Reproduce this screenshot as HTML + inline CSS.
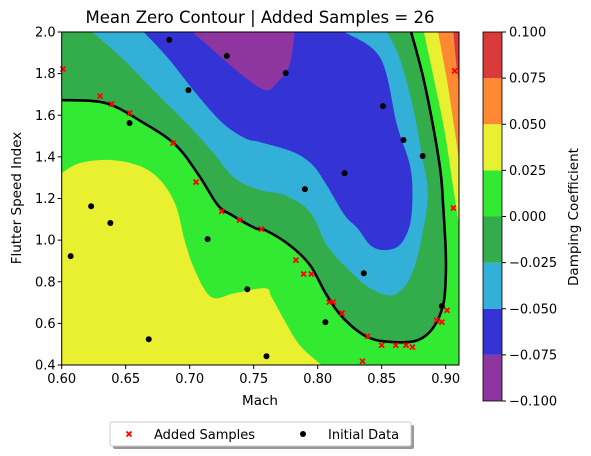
<!DOCTYPE html>
<html><head><meta charset="utf-8"><style>
html,body{margin:0;padding:0;background:#fff;}
svg{display:block;font-family:"DejaVu Sans","Liberation Sans",sans-serif;}
</style></head><body>
<svg id="chart" width="591" height="456" viewBox="0 0 591 456">
<defs><clipPath id="clip"><rect x="61.7" y="32" width="397.3" height="333"/></clipPath></defs>
<g id="plot" clip-path="url(#clip)"></g>
<g id="marks"></g>
<g id="axes"></g>
<text x="260" y="23" font-size="16.5" text-anchor="middle">Mean Zero Contour | Added Samples = 26</text>
</svg>
<script>
// ---- data ----
const xTicks = [0.60,0.65,0.70,0.75,0.80,0.85,0.90];
const yTicks = [0.4,0.6,0.8,1.0,1.2,1.4,1.6,1.8,2.0];
const cbTicks = [-0.100,-0.075,-0.050,-0.025,0.000,0.025,0.050,0.075,0.100];
const cbColors = ["#8f35a0","#3333d6","#33b0d8","#33ad4c","#33ea33","#e8f030","#ff8833","#d93a3a"];
const initialMach = [.684,.729,.699,.653,.775,.851,.867,.882,.821,.790,.623,.638,.607,.668,.714,.745,.760,.836,.806,.897];
const initialSpeed = [1.962,1.885,1.721,1.563,1.803,1.644,1.481,1.404,1.322,1.245,1.163,1.082,.923,.524,1.005,.764,.442,.841,.606,.683];
const addedMach = [.601,.630,.639,.653,.687,.705,.907,.725,.739,.756,.783,.789,.795,.809,.812,.819,.839,.850,.861,.869,.874,.893,.897,.901,.906,.835];
const addedSpeed = [1.822,1.692,1.654,1.611,1.466,1.279,1.813,1.139,1.096,1.053,.904,.837,.837,.702,.702,.649,.538,.495,.495,.495,.486,.615,.606,.663,1.154,.418];
const zeroContour = [[.600,1.673],[.634,1.659],[.663,1.567],[.689,1.457],[.707,1.313],[.722,1.168],[.733,1.120],[.751,1.058],[.759,1.048],[.778,.976],[.794,.880],[.807,.736],[.820,.625],[.839,.534],[.859,.510],[.878,.519],[.890,.577],[.898,.688],[.900,.817],[.900,.952],[.898,1.168],[.896,1.327],[.890,1.553],[.882,1.793],[.873,2.0]];
const yellowLow = [[.600,1.322],[.614,1.370],[.638,1.385],[.661,1.356],[.677,1.288],[.689,1.168],[.696,1.0],[.704,.856],[.717,.726],[.735,.745],[.759,.769],[.764,.726],[.774,.615],[.786,.495],[.803,.4]];
const cyanEdge = [[.624,2.0],[.647,1.875],[.673,1.712],[.699,1.553],[.718,1.423],[.735,1.298],[.755,1.240],[.774,1.216],[.794,1.135],[.807,.976],[.823,.865],[.841,.769],[.859,.736],[.872,.817],[.880,.976],[.886,1.216],[.881,1.423],[.874,1.649],[.864,1.875],[.854,2.0]];
const blueEdge = [[.664,2.0],[.683,1.875],[.704,1.712],[.725,1.567],[.743,1.490],[.755,1.471],[.781,1.423],[.796,1.361],[.807,1.264],[.821,1.120],[.831,1.058],[.841,.976],[.852,.952],[.864,.976],[.872,1.072],[.874,1.216],[.872,1.361],[.862,1.553],[.849,1.875],[.821,2.0]];
const purpleEdge = [[.702,2.0],[.720,1.904],[.741,1.793],[.759,1.721],[.768,1.755],[.778,1.841],[.782,2.0]];
const yellowHigh = [[.883,2.0],[.891,1.769],[.899,1.529],[.905,1.288],[.911,1.048]];
const orangeEdge = [[.894,2.0],[.901,1.769],[.907,1.529],[.911,1.361]];
const redEdge = [[.906,2.0],[.908,1.865],[.911,1.721]];

// ---- scales ----
const X0=61.7,X1=459,Y0=365,Y1=32;
const xMin=0.6,xMax=0.6+(X1-X0)/1280,yMin=0.4,yMax=2.0;
const sx=v=>X0+(v-xMin)/(xMax-xMin)*(X1-X0);
const sy=v=>Y0-(v-yMin)/(yMax-yMin)*(Y0-Y1);
const cbTop=32,cbBot=401,cbL=483,cbR=502;
const sc=v=>cbBot-(v+0.1)/0.2*(cbBot-cbTop);
const NS="http://www.w3.org/2000/svg";
function mk(tag,attrs,parent){const e=document.createElementNS(NS,tag);for(const k in attrs)e.setAttribute(k,attrs[k]);parent.appendChild(e);return e;}
function smooth(pts){let d=`M${pts[0][0]},${pts[0][1]}`;for(let i=0;i<pts.length-1;i++){const p0=pts[i-1]||pts[i],p1=pts[i],p2=pts[i+1],p3=pts[i+2]||p2;
const c1=[p1[0]+(p2[0]-p0[0])/6,p1[1]+(p2[1]-p0[1])/6],c2=[p2[0]-(p3[0]-p1[0])/6,p2[1]-(p3[1]-p1[1])/6];
d+=` C${c1[0]},${c1[1]} ${c2[0]},${c2[1]} ${p2[0]},${p2[1]}`;}return d;}
const px=arr=>arr.map(p=>[sx(p[0]),sy(p[1])]);
const plot=document.getElementById('plot'),marks=document.getElementById('marks'),axes=document.getElementById('axes');

let r=mk('rect',{x:X0,y:Y1,width:X1-X0,height:Y0-Y1,fill:cbColors[4]},plot);


function region(pts,close,fill,name){const p=px(pts);let d=smooth(p)+close(p)+'Z';const e=mk('path',{d:d,fill:fill},plot);


return e;}
region(yellowLow,p=>` L${X0},${Y0}`,cbColors[5],'region-yellow-low');
region(zeroContour,p=>` L${X0},${Y1}`,cbColors[3],'region-dark-green');
region(cyanEdge,p=>'',cbColors[2],'region-cyan');
region(blueEdge,p=>'',cbColors[1],'region-blue');
region(purpleEdge,p=>'',cbColors[0],'region-purple');
region(yellowHigh,p=>` L${X1+5},${Y1}`,cbColors[5],'region-yellow-high');
region(orangeEdge,p=>` L${X1+5},${Y1}`,cbColors[6],'region-orange');
region(redEdge,p=>` L${X1+5},${Y1}`,cbColors[7],'region-red');
const zl=mk('path',{d:smooth(px(zeroContour)),fill:'none',stroke:'#000','stroke-width':2.6},plot);



addedMach.forEach((m,i)=>{const x=sx(m),y=sy(addedSpeed[i]);
const e=mk('path',{d:`M${x-2.5},${y-2.5}L${x+2.5},${y+2.5}M${x-2.5},${y+2.5}L${x+2.5},${y-2.5}`,stroke:'#ff0000','stroke-width':1.8},marks);

});
initialMach.forEach((m,i)=>{const e=mk('circle',{cx:sx(m),cy:sy(initialSpeed[i]),r:3,fill:'#000'},marks);

});

const fr=mk('rect',{x:X0,y:Y1,width:X1-X0,height:Y0-Y1,fill:'none',stroke:'#000','stroke-width':1},axes);


xTicks.forEach(v=>{const x=sx(v);mk('line',{x1:x,x2:x,y1:Y0,y2:Y0+4,stroke:'#000'},axes);
const t=mk('text',{x:x,y:Y0+18,'font-size':13,'text-anchor':'middle'},axes);t.textContent=v.toFixed(2);

});
yTicks.forEach(v=>{const y=sy(v);mk('line',{x1:X0-4,x2:X0,y1:y,y2:y,stroke:'#000'},axes);
const t=mk('text',{x:X0-6,y:y+4.5,'font-size':13,'text-anchor':'end'},axes);t.textContent=v.toFixed(1);

});

cbColors.forEach((c,i)=>{const e=mk('rect',{x:cbL,y:sc(cbTicks[i+1]),width:cbR-cbL,height:sc(cbTicks[i])-sc(cbTicks[i+1]),fill:c},axes);

});
mk('rect',{x:cbL,y:cbTop,width:cbR-cbL,height:cbBot-cbTop,fill:'none',stroke:'#000','stroke-width':0.8},axes);
cbTicks.forEach(v=>{const y=sc(v);mk('line',{x1:cbR,x2:cbR+4,y1:y,y2:y,stroke:'#000'},axes);
const t=mk('text',{x:cbR+7,y:y+4.5,'font-size':13},axes);t.textContent=(v<0?'\u2212':'')+Math.abs(v).toFixed(3);

});

const svg=document.getElementById('chart');
function txt(s,attrs,name){const e=document.createElementNS(NS,'text');for(const k in attrs)e.setAttribute(k,attrs[k]);e.textContent=s;svg.appendChild(e);

return e;}
txt('Mach',{x:260,y:405,'font-size':13.5,'text-anchor':'middle'},'x-axis-title');
txt('Flutter Speed Index',{x:0,y:0,'font-size':13.5,'text-anchor':'middle',transform:'translate(21,198) rotate(-90)'},'y-axis-title');
txt('Damping Coefficient',{x:0,y:0,'font-size':13.5,'text-anchor':'middle',transform:'translate(578,217) rotate(-90)'},'colorbar-title');
const lg=document.createElementNS(NS,'g');svg.appendChild(lg);


lg.innerHTML='<rect x="113" y="425" width="301" height="24" rx="2" fill="#999"/><rect x="110" y="422" width="301" height="24" rx="2" fill="#fff" stroke="#ccc"/>'+
'<path d="M126.5,431.5L131.5,436.5M126.5,436.5L131.5,431.5" stroke="#f00" stroke-width="1.8"/><circle cx="303" cy="434" r="3" fill="#000"/>';
txt('Added Samples',{x:154,y:439,'font-size':13},'legend-entry-added-samples');
txt('Initial Data',{x:328,y:439,'font-size':13},'legend-entry-initial-data');
</script>
</body></html>
